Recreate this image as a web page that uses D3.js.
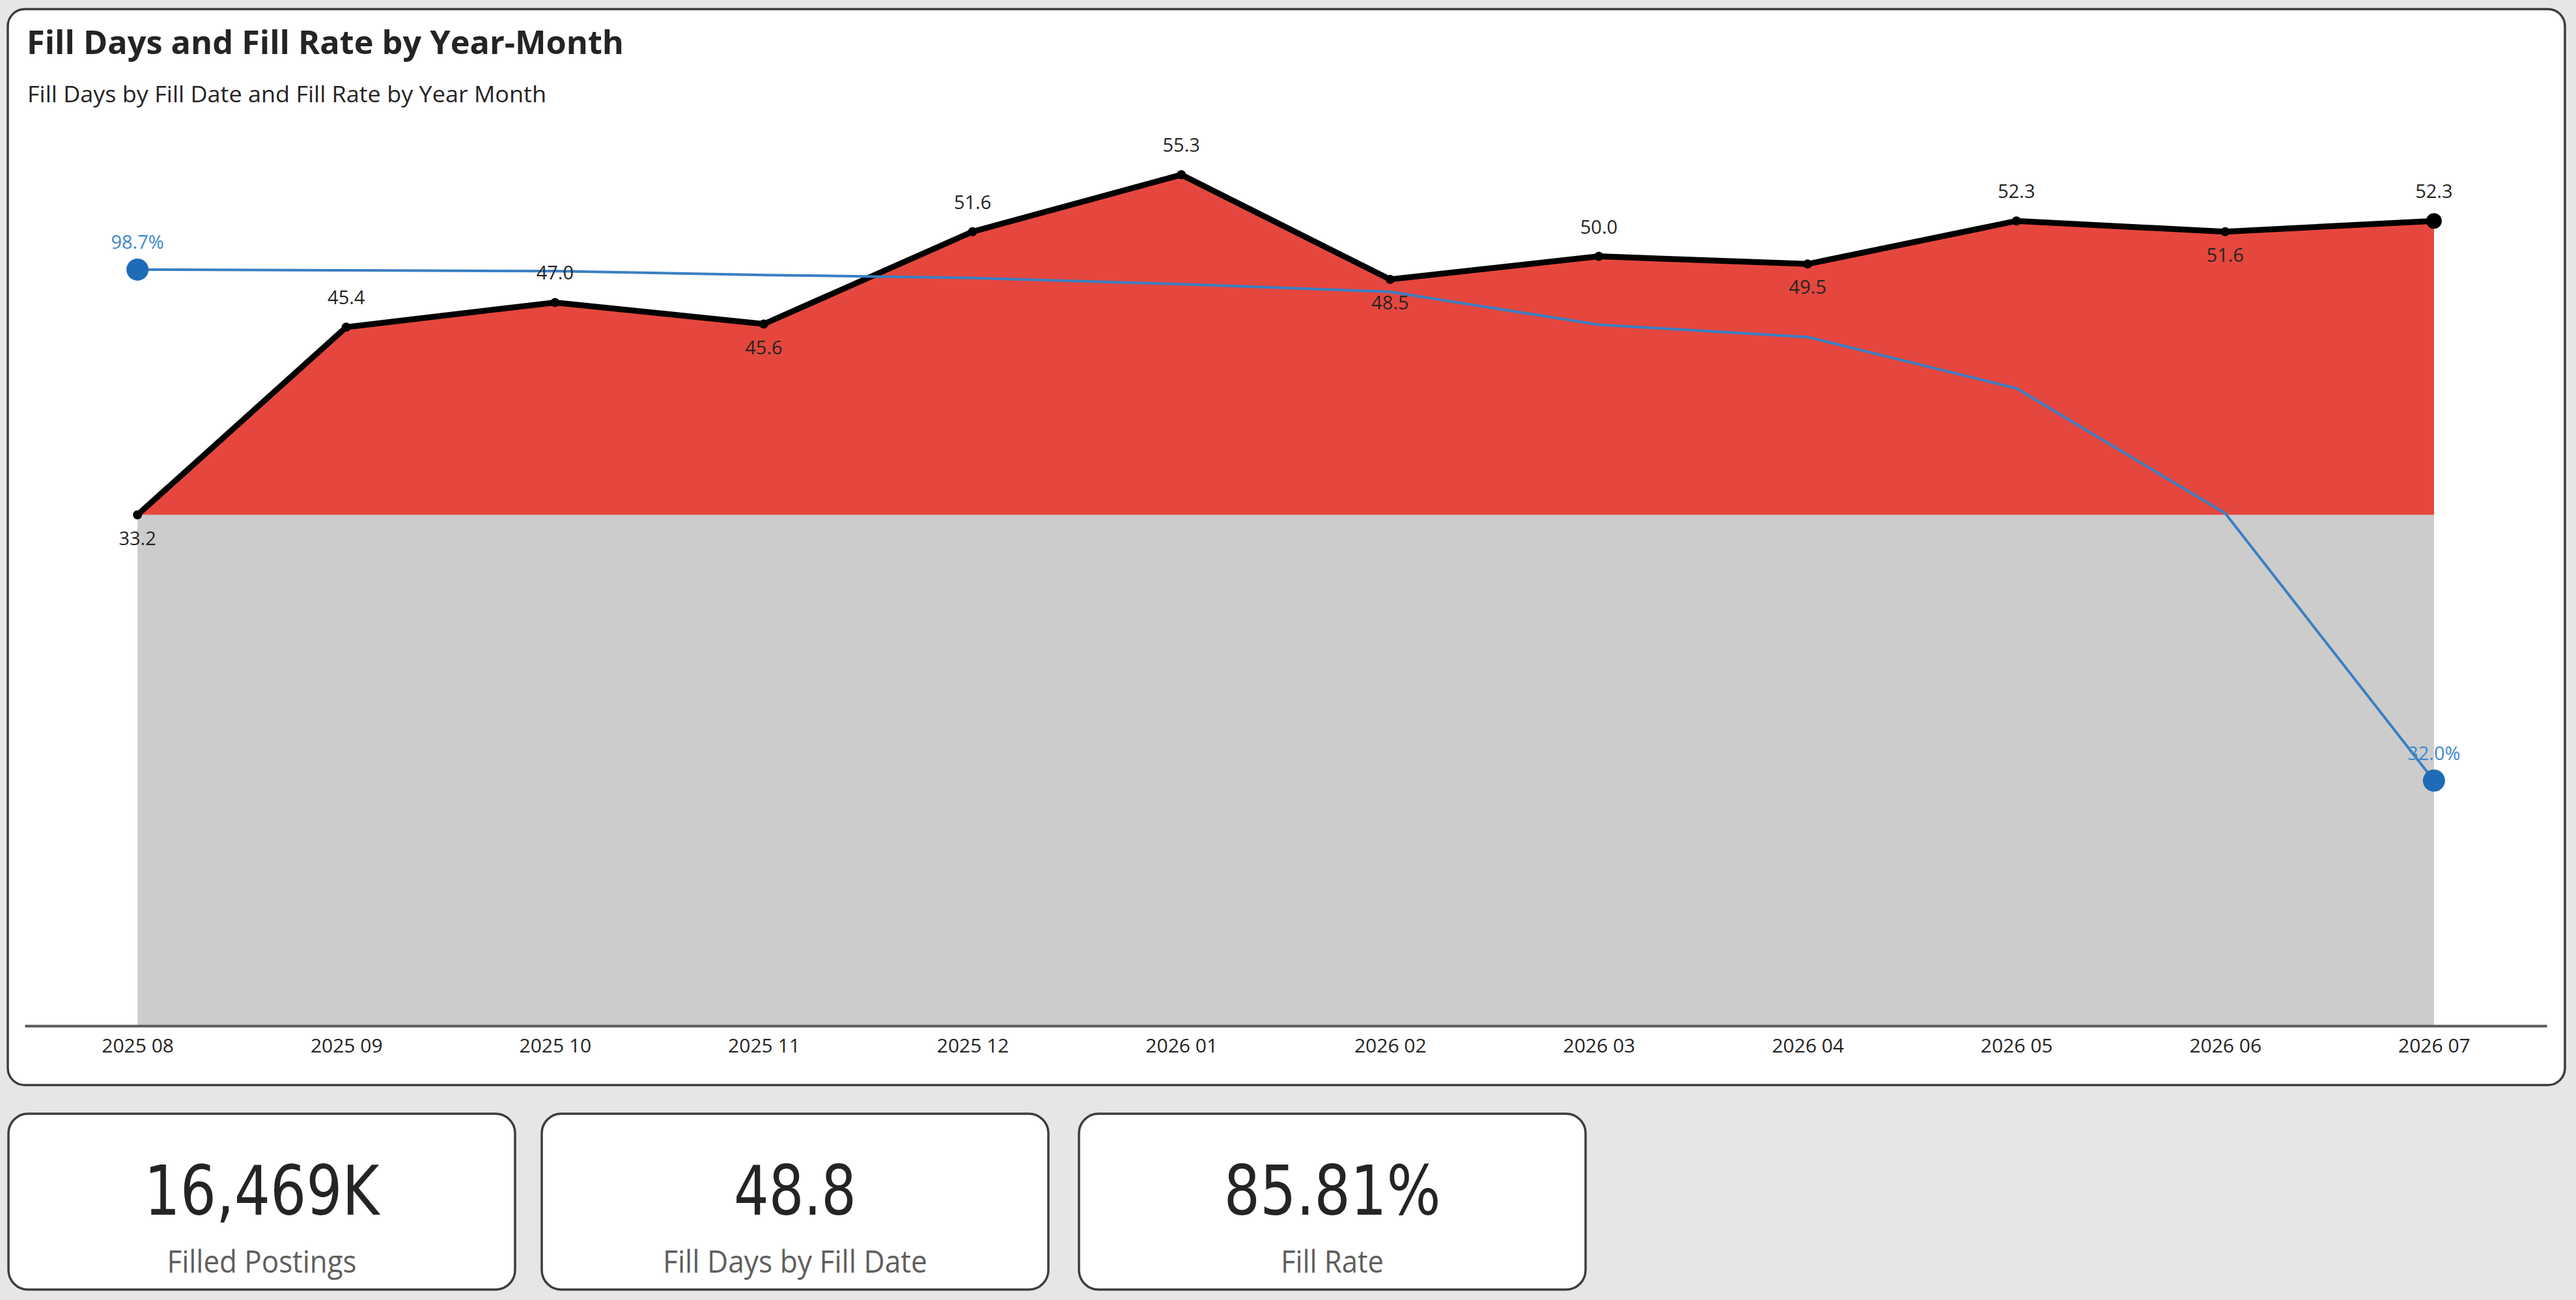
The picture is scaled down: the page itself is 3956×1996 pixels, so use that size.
<!DOCTYPE html>
<html><head><meta charset="utf-8">
<script src="https://cdn.jsdelivr.net/npm/d3@7"></script>
<style>html,body{margin:0;padding:0;background:#e6e6e6;overflow:hidden}</style>
</head><body><svg id="c" width="3956" height="1996"></svg>
<script>
const titleText = "Fill Days and Fill Rate by Year-Month";
const subtitleText = "Fill Days by Fill Date and Fill Rate by Year Month";
const months = ["2025 08","2025 09","2025 10","2025 11","2025 12","2026 01","2026 02","2026 03","2026 04","2026 05","2026 06","2026 07"];
const fillDays = [33.2,45.4,47.0,45.6,51.6,55.3,48.5,50.0,49.5,52.3,51.6,52.3];
const fillRate = [0.987,0.986,0.985,0.980,0.976,0.968,0.958,0.915,0.899,0.832,0.669,0.320];
const daysLabelSide = ["below","above","above","below","above","above","below","above","below","above","below","above"];
const kpiValues = ["16,469K","48.8","85.81%"];
const kpiLabels = ["Filled Postings","Fill Days by Fill Date","Fill Rate"];

const FONT = "'Segoe UI','Open Sans','Noto Sans',sans-serif";
const svg = d3.select("#c");

// page background
svg.append("rect").attr("width",3956).attr("height",1996).attr("fill","#e6e6e6");

// main card
svg.append("rect").attr("x",12).attr("y",14).attr("width",3927).attr("height",1652)
  .attr("rx",26).attr("fill","#fff").attr("stroke","#3d3d3d").attr("stroke-width",3.5);

svg.append("text").attr("x",41).attr("y",83).text(titleText)
  .attr("font-family",FONT).attr("font-weight",700).attr("font-size",50).attr("fill","#252423")
  .attr("textLength",917).attr("lengthAdjust","spacingAndGlyphs");
svg.append("text").attr("x",42).attr("y",157).text(subtitleText)
  .attr("font-family",FONT).attr("font-size",35).attr("fill","#252423")
  .attr("textLength",797).attr("lengthAdjust","spacingAndGlyphs");

// scales
const x = d3.scalePoint().domain(months).range([38,3911]).padding(0.54);
const yDays = d3.scaleLinear().domain([0,58]).range([1575,204.5]);
const yRate = d3.scaleLinear().domain([0,1.165]).range([1575,204.5]);
const base = d3.min(fillDays);
const rows = months.map((m,i)=>({m, d:fillDays[i], r:fillRate[i], side:daysLabelSide[i], i}));

const g = svg.append("g");
// gray band
g.append("path").datum(rows)
  .attr("d", d3.area().x(d=>x(d.m)).y0(yDays(0)).y1(yDays(base)))
  .attr("fill","#cccccc");
// red area
g.append("path").datum(rows)
  .attr("d", d3.area().x(d=>x(d.m)).y0(yDays(base)).y1(d=>yDays(d.d)))
  .attr("fill","#e5473e");

// axis
const ax = g.append("g").attr("transform","translate(0,1575)")
  .call(d3.axisBottom(x).tickSize(0).tickSizeOuter(0).tickPadding(20));
ax.select(".domain").attr("stroke","#5a5a5a").attr("stroke-width",4);
ax.selectAll("text").attr("font-family",FONT).attr("font-size",30).attr("fill","#252423");

// fill days line
g.append("path").datum(rows)
  .attr("d", d3.line().x(d=>x(d.m)).y(d=>yDays(d.d)))
  .attr("fill","none").attr("stroke","#000").attr("stroke-width",9).attr("stroke-linejoin","miter");
g.selectAll("circle.dm").data(rows).join("circle").attr("class","dm")
  .attr("cx",d=>x(d.m)).attr("cy",d=>yDays(d.d))
  .attr("r",(d,i)=> i===rows.length-1 ? 12 : 7).attr("fill","#000");

// fill rate line
g.append("path").datum(rows)
  .attr("d", d3.line().x(d=>x(d.m)).y(d=>yRate(d.r)))
  .attr("fill","none").attr("stroke","#3a7fc3").attr("stroke-width",4);
const ends = [rows[0], rows[rows.length-1]];
g.selectAll("circle.rm").data(ends).join("circle").attr("class","rm")
  .attr("cx",d=>x(d.m)).attr("cy",d=>yRate(d.r)).attr("r",17).attr("fill","#1f6bb5");
g.selectAll("text.rl").data(ends).join("text").attr("class","rl")
  .attr("x",d=>x(d.m)).attr("y",d=>yRate(d.r)-32)
  .attr("text-anchor","middle").attr("font-family",FONT).attr("font-size",29).attr("fill","#3d88cc")
  .text(d=>d3.format(".1%")(d.r));

// fill days labels
g.selectAll("text.dl").data(rows).join("text").attr("class","dl")
  .attr("x",d=>x(d.m)).attr("y",d=> d.side==="above" ? yDays(d.d)-35 : yDays(d.d)+46)
  .attr("text-anchor","middle").attr("font-family",FONT).attr("font-size",29).attr("fill","#252423")
  .text(d=>d3.format(".1f")(d.d));

// KPI cards
const cardX = [13,832,1657];
const cardW = 778;
const valueW = [361,188,333];
const labelW = [291,406,158];
const kg = svg.selectAll("g.kpi").data(kpiValues).join("g").attr("class","kpi")
  .attr("transform",(d,i)=>`translate(${cardX[i]},1710)`);
kg.append("rect").attr("width",cardW).attr("height",270).attr("rx",30)
  .attr("fill","#fff").attr("stroke","#3d3d3d").attr("stroke-width",3.5);
kg.append("text").attr("x",cardW/2).attr("y",155).attr("text-anchor","middle")
  .attr("font-family","'DejaVu Sans Condensed','Roboto',sans-serif").attr("font-size",106).attr("fill","#252423")
  .attr("textLength",(d,i)=>valueW[i]).attr("lengthAdjust","spacingAndGlyphs")
  .text(d=>d);
kg.append("text").attr("x",cardW/2).attr("y",244).attr("text-anchor","middle")
  .attr("font-family",FONT).attr("font-size",48).attr("fill","#605e5c")
  .attr("textLength",(d,i)=>labelW[i]).attr("lengthAdjust","spacingAndGlyphs")
  .text((d,i)=>kpiLabels[i]);
</script></body></html>
